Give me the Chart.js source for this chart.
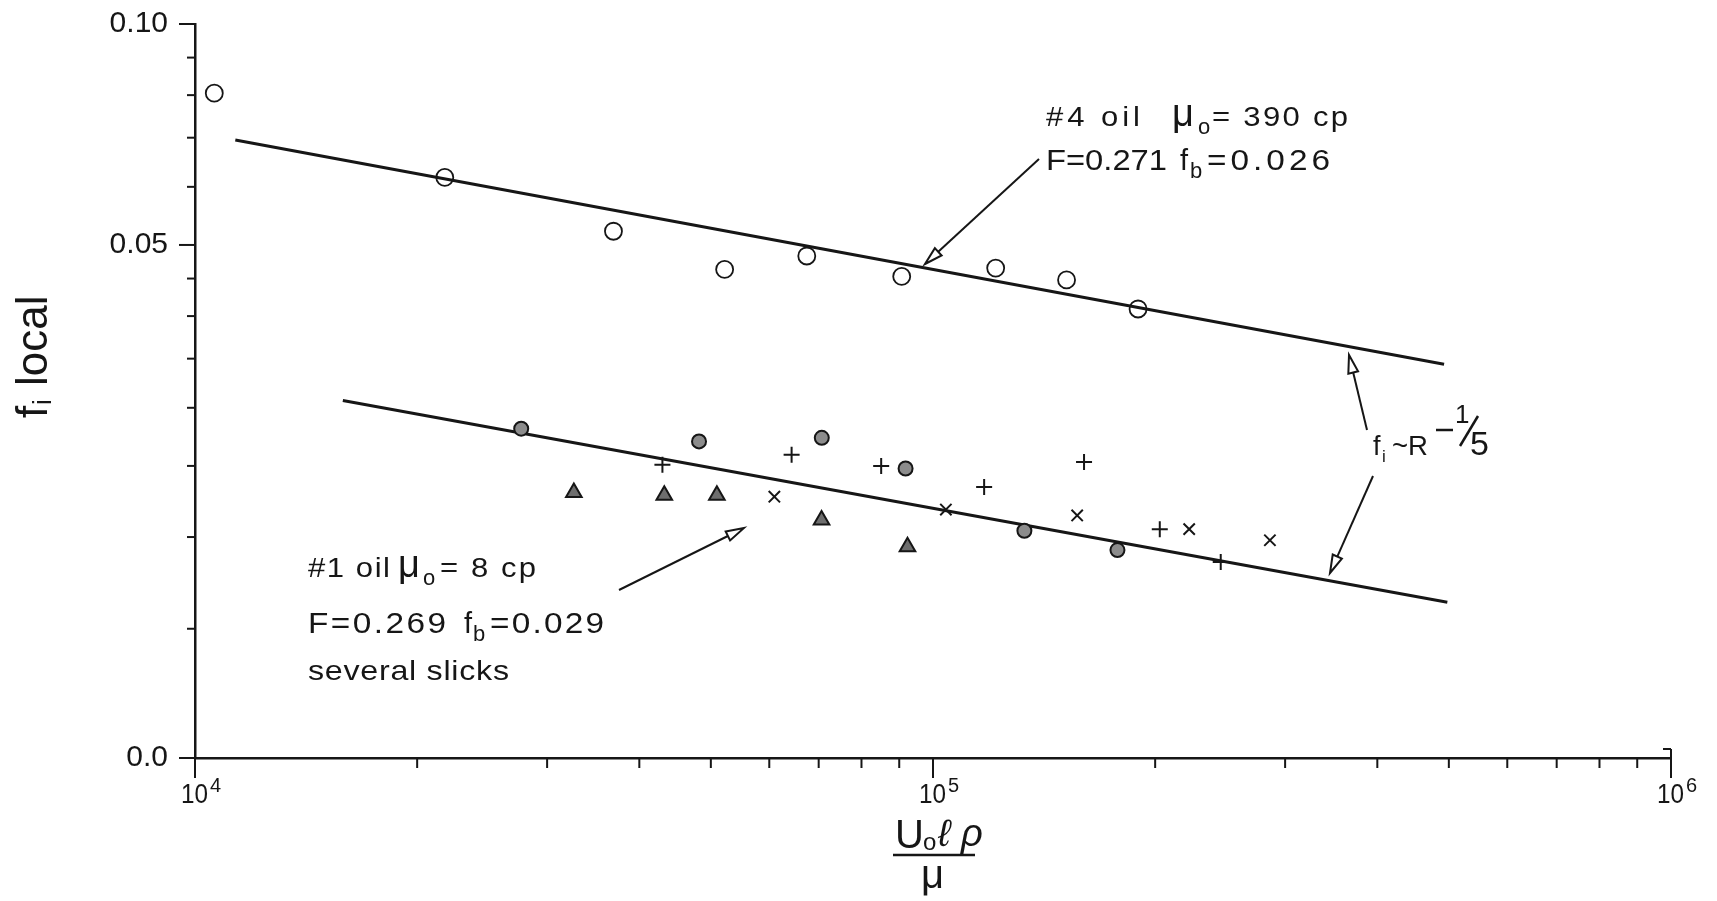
<!DOCTYPE html>
<html>
<head>
<meta charset="utf-8">
<script src="https://cdn.jsdelivr.net/npm/chart.js@4.4.1/dist/chart.umd.min.js"></script>
<style>
  html, body { margin: 0; padding: 0; background: #fff; }
  #wrap { width: 1717px; height: 901px; }
</style>
</head>
<body>
<div id="wrap"><canvas id="frictionChart" width="1717" height="901"></canvas></div>
<script>
// #4 oil, mu_o = 390 cp (open circles)
const oil4Re = [10620, 21800, 36900, 52200, 67450, 90700, 121600, 151700, 189600];
const oil4F  = [0.0805, 0.0618, 0.0522, 0.0463, 0.0483, 0.0453, 0.0465, 0.0448, 0.0409];

// #1 oil, mu_o = 8 cp, several slicks (one symbol per slick)
const slickARe = [27670, 48190, 70680, 91800, 133000, 177800];
const slickAF  = [0.0281, 0.0270, 0.0273, 0.0248, 0.0204, 0.0192];
const slickBRe = [32610, 43240, 50950, 70630, 92350];
const slickBF  = [0.0230, 0.0228, 0.0228, 0.0211, 0.0194];
const slickCRe = [42990, 64330, 85070, 117300, 160200, 202900, 245400];
const slickCF  = [0.0251, 0.0259, 0.0250, 0.0234, 0.0253, 0.0205, 0.0185];
const slickDRe = [60960, 104100, 156800, 222400, 286100];
const slickDF  = [0.0227, 0.0218, 0.0214, 0.0205, 0.0198];

// f_i ~ R^-1/5 lines (end points)
const fit4Re = [11340, 492600];
const fit4F  = [0.0695, 0.0344];
const fit1Re = [15860, 497700];
const fit1F  = [0.0307, 0.0163];

// axis ticks
const xTicks = [1e4, 2e4, 3e4, 4e4, 5e4, 6e4, 7e4, 8e4, 9e4,
                1e5, 2e5, 3e5, 4e5, 5e5, 6e5, 7e5, 8e5, 9e5, 1e6];
const xMajor = [1e4, 1e5, 1e6];
const xExp   = ['4', '5', '6'];
const yTicks  = [0.01, 0.015, 0.02, 0.025, 0.03, 0.035, 0.04, 0.045, 0.05, 0.06, 0.07, 0.08, 0.09, 0.1];
const yLabels = ['0.0', '', '', '', '', '', '', '', '0.05', '', '', '', '', '0.10'];
const yMajor  = [0.01, 0.05, 0.1];

const ink = '#161616';
const FONT = '"Liberation Sans", Arial, Helvetica, sans-serif';
const pts = (xs, ys) => xs.map((v, i) => ({ x: v, y: ys[i] }));

// the scan uses a wide, loosely spaced lettering: widen a string to span x1..x2
function wide(ctx, str, size, x1, x2, base) {
  ctx.font = size + 'px ' + FONT;
  ctx.textAlign = 'left';
  const chars = [...str];
  const ws = chars.map(c => ctx.measureText(c).width);
  const w = ws.reduce((a, b) => a + b, 0);
  const sx = Math.min(Math.max((x2 - x1) / w, 0.85), 1.15);
  const gap = chars.length > 1 ? (x2 - x1 - w * sx) / (chars.length - 1) : 0;
  let cx = x1;
  chars.forEach((c, i) => {
    ctx.save(); ctx.translate(cx, base); ctx.scale(sx, 1); ctx.fillText(c, 0, 0); ctx.restore();
    cx += ws[i] * sx + gap;
  });
}
function txt(ctx, str, size, x, base) {
  ctx.font = size + 'px ' + FONT;
  ctx.textAlign = 'left';
  ctx.fillText(str, x, base);
}
function arrow(ctx, x1, y1, x2, y2) {
  const a = Math.atan2(y2 - y1, x2 - x1), L = 18, W = 5;
  const bx = x2 - L * Math.cos(a), by = y2 - L * Math.sin(a);
  ctx.beginPath(); ctx.moveTo(x1, y1); ctx.lineTo(bx, by); ctx.stroke();
  ctx.beginPath();
  ctx.moveTo(x2, y2);
  ctx.lineTo(bx + W * Math.sin(a), by - W * Math.cos(a));
  ctx.lineTo(bx - W * Math.sin(a), by + W * Math.cos(a));
  ctx.closePath();
  ctx.fillStyle = '#fff'; ctx.fill(); ctx.stroke();
  ctx.fillStyle = ink;
}

// ticks, tick labels, axis titles and the notes on the plot
const decor = {
  id: 'decor',
  afterDraw(chart) {
    const { ctx, scales: { x, y } } = chart;
    ctx.save();
    ctx.strokeStyle = ink; ctx.fillStyle = ink; ctx.lineWidth = 2;
    ctx.textBaseline = 'alphabetic';

    y.ticks.forEach(t => {
      const py = y.getPixelForValue(t.value);
      const len = yMajor.includes(t.value) ? 16 : 8;
      ctx.beginPath(); ctx.moveTo(x.left, py); ctx.lineTo(x.left - len, py); ctx.stroke();
    });
    x.ticks.forEach(t => {
      const px = x.getPixelForValue(t.value);
      const major = xMajor.includes(t.value);
      ctx.beginPath();
      ctx.moveTo(px, y.bottom - (t.value === 1e6 ? 9 : 0));
      ctx.lineTo(px, y.bottom + (major ? 20 : 10));
      ctx.stroke();
    });
    const pEnd = x.getPixelForValue(1e6);
    ctx.beginPath(); ctx.moveTo(pEnd - 8, y.bottom - 9); ctx.lineTo(pEnd, y.bottom - 9); ctx.stroke();

    // x tick labels 10^n
    xMajor.forEach((v, i) => {
      const px = x.getPixelForValue(v);
      wide(ctx, '10', 28, px - 14, px + 13, y.bottom + 45);
      txt(ctx, xExp[i], 20, px + 15, y.bottom + 34);
    });

    // y title: f_i local (rotated)
    ctx.save();
    ctx.translate(47, 356);
    ctx.rotate(-Math.PI / 2);
    txt(ctx, 'f', 44, -62, 0);
    txt(ctx, 'i', 26, -49, 4);
    txt(ctx, 'local', 44, -30, 0);
    ctx.restore();

    // x title: U_o l rho / mu
    txt(ctx, 'U', 40, 895, 848);
    txt(ctx, 'o', 24, 923, 850);
    ctx.font = 'italic 38px ' + FONT;
    ctx.fillText('\u2113', 938, 846);
    ctx.fillText('\u03C1', 961, 846);
    ctx.lineWidth = 2.5;
    ctx.beginPath(); ctx.moveTo(893, 855); ctx.lineTo(975, 855); ctx.stroke();
    txt(ctx, '\u03BC', 40, 921, 888);
    ctx.lineWidth = 2;

    // #4 oil note
    wide(ctx, '#4 oil', 27, 1046, 1140, 126);
    txt(ctx, '\u03BC', 38, 1172, 126);
    txt(ctx, 'o', 22, 1198, 134);
    wide(ctx, '= 390 cp', 27, 1212, 1348, 126);
    wide(ctx, 'F=0.271', 29, 1046, 1167, 170);
    txt(ctx, 'f', 29, 1180, 170);
    txt(ctx, 'b', 22, 1190, 178);
    wide(ctx, '=0.026', 29, 1207, 1330, 170);

    // #1 oil note
    wide(ctx, '#1 oil', 27, 308, 390, 577);
    txt(ctx, '\u03BC', 38, 398, 577);
    txt(ctx, 'o', 22, 423, 585);
    wide(ctx, '= 8 cp', 27, 440, 536, 577);
    wide(ctx, 'F=0.269', 29, 308, 446, 633);
    txt(ctx, 'f', 29, 464, 633);
    txt(ctx, 'b', 22, 473, 641);
    wide(ctx, '=0.029', 29, 490, 604, 633);
    wide(ctx, 'several slicks', 28, 308, 509, 680);

    // f_i ~ R^-1/5
    txt(ctx, 'f', 27, 1373, 455);
    txt(ctx, 'i', 17, 1382, 462);
    wide(ctx, '~R', 27, 1392, 1428, 455);
    ctx.lineWidth = 2.5;
    ctx.beginPath(); ctx.moveTo(1436, 430); ctx.lineTo(1453, 430); ctx.stroke();
    txt(ctx, '1', 26, 1455, 423);
    ctx.beginPath(); ctx.moveTo(1460, 446); ctx.lineTo(1478, 416); ctx.stroke();
    txt(ctx, '5', 34, 1470, 455);
    ctx.lineWidth = 2;

    // arrows
    arrow(ctx, 1039, 159, 925, 264);
    arrow(ctx, 619, 590, 744, 528);
    arrow(ctx, 1367, 430, 1349, 355);
    arrow(ctx, 1373, 476, 1330, 573);

    ctx.restore();
  }
};

const ctxFric = document.getElementById('frictionChart').getContext('2d');
const frictionChart = new Chart(ctxFric, {
  type: 'scatter',
  data: {
    datasets: [
      { label: '#4 oil', data: pts(oil4Re, oil4F), pointStyle: 'circle', pointRadius: 8.5,
        backgroundColor: 'rgba(0,0,0,0)', borderColor: ink, borderWidth: 1.8 },
      { label: 'slick A', data: pts(slickARe, slickAF), pointStyle: 'circle', pointRadius: 7,
        backgroundColor: '#8c8c8c', borderColor: ink, borderWidth: 2 },
      { label: 'slick B', data: pts(slickBRe, slickBF), pointStyle: 'triangle', pointRadius: 9,
        backgroundColor: '#6e6e6e', borderColor: ink, borderWidth: 2 },
      { label: 'slick C', data: pts(slickCRe, slickCF), pointStyle: 'cross', pointRadius: 8,
        borderColor: ink, borderWidth: 2 },
      { label: 'slick D', data: pts(slickDRe, slickDF), pointStyle: 'crossRot', pointRadius: 8,
        borderColor: ink, borderWidth: 2 },
      { label: 'fit #4', data: pts(fit4Re, fit4F), showLine: true, pointRadius: 0,
        borderColor: ink, borderWidth: 3 },
      { label: 'fit #1', data: pts(fit1Re, fit1F), showLine: true, pointRadius: 0,
        borderColor: ink, borderWidth: 3 }
    ]
  },
  options: {
    responsive: false,
    animation: false,
    events: [],
    layout: { padding: { top: 24, right: 46, bottom: 0, left: 0 } },
    plugins: { legend: { display: false }, tooltip: { enabled: false } },
    scales: {
      x: {
        type: 'logarithmic', min: 1e4, max: 1e6,
        afterBuildTicks: s => { s.ticks = xTicks.map(v => ({ value: v })); },
        afterFit: s => { s.height = 143; s.paddingLeft = 0; s.paddingRight = 0; },
        grid: { display: false, drawTicks: false },
        border: { display: true, color: ink, width: 2.5 },
        ticks: { display: false }
      },
      y: {
        type: 'logarithmic', min: 0.01, max: 0.1,
        afterBuildTicks: s => { s.ticks = yTicks.map(v => ({ value: v })); },
        afterFit: s => { s.width = 195; s.paddingTop = 0; s.paddingBottom = 0; },
        grid: { display: false, drawTicks: false },
        border: { display: true, color: ink, width: 2.5 },
        ticks: {
          autoSkip: false,
          padding: 27,
          color: ink,
          font: { family: FONT, size: 30 },
          callback: (v, i) => yLabels[i]
        }
      }
    }
  },
  plugins: [decor]
});
</script>
</body>
</html>
